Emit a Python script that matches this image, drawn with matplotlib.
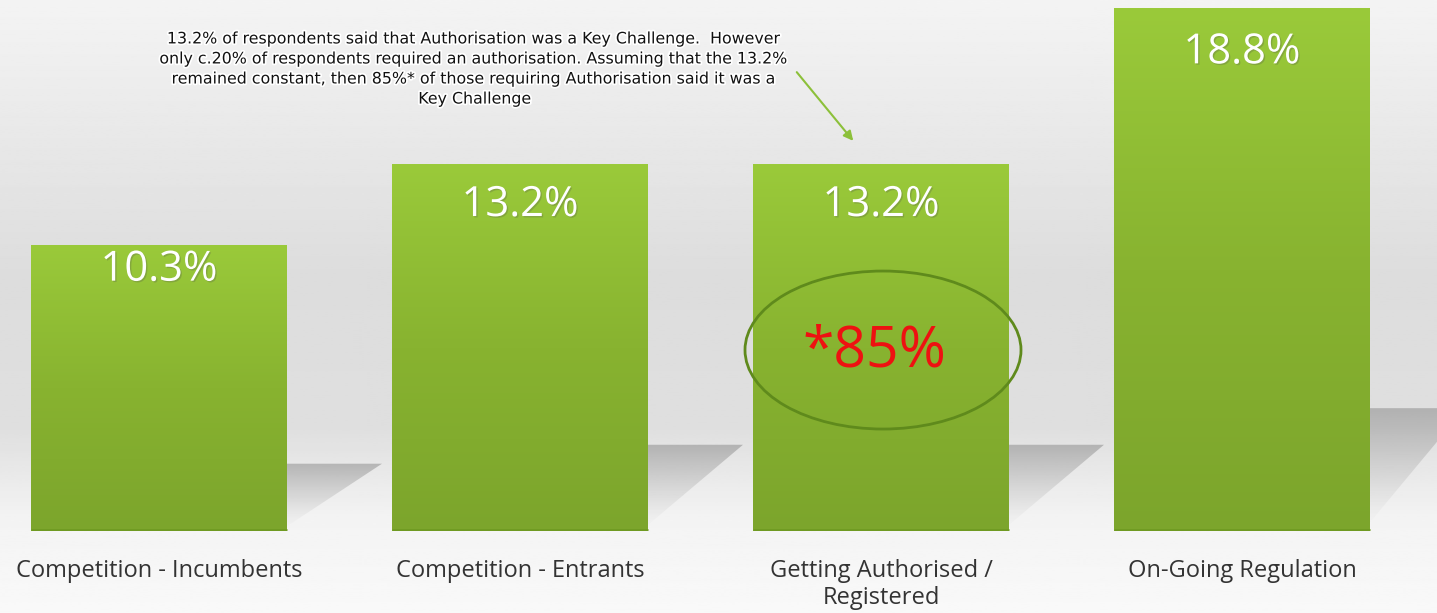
import numpy as np
import matplotlib
matplotlib.use("Agg")
import matplotlib.pyplot as plt
from matplotlib.patches import Ellipse, Polygon
from matplotlib.colors import LinearSegmentedColormap
import matplotlib.patheffects as pe

# ---- data ----
categories = ["Competition - Incumbents", "Competition - Entrants",
              "Getting Authorised /\nRegistered", "On-Going Regulation"]
values = [10.3, 13.2, 13.2, 18.8]
value_labels = ["10.3%", "13.2%", "13.2%", "18.8%"]
highlight_index = 2
highlight_label = "*85%"
note_text = ("13.2% of respondents said that Authorisation was a Key Challenge.  However\n"
             "only c.20% of respondents required an authorisation. Assuming that the 13.2%\n"
             "remained constant, then 85%* of those requiring Authorisation said it was a\n"
             "Key Challenge")

# label placement (pixels below bar top)
label_offsets_px = [25, 41, 41, 44]

W, H = 1437, 613
fig = plt.figure(figsize=(W / 100, H / 100), dpi=100)

# background gradient
bg = fig.add_axes([0, 0, 1, 1])
bg.set_axis_off()
ys = np.linspace(0, 1, 300)
stops_y = [0.0, 0.15, 0.45, 0.70, 0.85, 1.0]
stops_v = [0.955, 0.925, 0.865, 0.875, 0.955, 0.975]
grad = np.interp(ys, stops_y, stops_v)
bg.imshow(np.repeat(grad[:, None], 2, axis=1), cmap="gray", vmin=0, vmax=1,
          aspect="auto", extent=[0, 1, 0, 1], origin="upper")
bg.set_xlim(0, 1)
bg.set_ylim(0, 1)

ax = fig.add_axes([0, (H - 531) / H, 1, 531 / H])
ax.patch.set_alpha(0)

x = np.arange(len(values))
width = 0.709
scale = 27.8  # px per unit
ylim_top = 531 / scale
xlim = (-159 / 361, (W - 159) / 361)

# shadows
dx = 95 / 361
shadow_cmap = LinearSegmentedColormap.from_list(
    "sh", [(0.55, 0.55, 0.55, 0.0), (0.55, 0.55, 0.55, 0.55)])
for xi, v in zip(x, values):
    xr = xi + width / 2
    h = 0.235 * v
    poly = Polygon([(xr - 0.02, 0), (xr, h), (xr + dx, h)], closed=True,
                   facecolor="none", edgecolor="none")
    ax.add_patch(poly)
    g = np.linspace(0, 1, 100)[:, None] ** 1.3
    im = ax.imshow(np.repeat(g, 2, axis=1), cmap=shadow_cmap, vmin=0, vmax=1,
                   aspect="auto", extent=[xr - 0.02, xr + dx, 0, h],
                   origin="lower", zorder=1)
    im.set_clip_path(poly)

# bars
bar_cmap = LinearSegmentedColormap.from_list(
    "bar", ["#7ca52c", "#88b330", "#9aca3a"])
bars = ax.bar(x, values, width=width, color="#8ab631", edgecolor="none", zorder=2)
for b in bars:
    x0, y0 = b.get_x(), b.get_y()
    bw, bh = b.get_width(), b.get_height()
    g = np.linspace(0, 1, 200)[:, None]
    im = ax.imshow(np.repeat(g, 2, axis=1), cmap=bar_cmap, vmin=0, vmax=1,
                   aspect="auto", extent=[x0, x0 + bw, y0, y0 + bh],
                   origin="lower", zorder=3)
    im.set_clip_path(b)
    ax.plot([x0, x0 + bw], [0.04, 0.04], color="#6f9a22", lw=2,
            solid_capstyle="butt", zorder=4)

# value labels
for xi, v, lab, off in zip(x, values, value_labels, label_offsets_px):
    ax.text(xi, v - off / scale, lab, ha="center", va="center", color="white",
            fontsize=30, family=["Open Sans", "DejaVu Sans"], zorder=6,
            path_effects=[pe.withSimplePatchShadow(offset=(1, -1), alpha=0.25)])

# highlight ellipse & text
hv = values[highlight_index]
ell_cy = hv - (350 - 164) / scale
ax.add_patch(Ellipse((highlight_index + 2 / 361, ell_cy), 276 / 361, 158 / scale,
                     facecolor="none", edgecolor="#5f8a1c", lw=2, zorder=7))
ax.text(highlight_index - 7 / 361, ell_cy - 2 / scale, highlight_label, ha="center",
        va="center", color="#ee1111", fontsize=41,
        family=["Open Sans", "DejaVu Sans"], zorder=8)

# note text + arrow
ax.text((475 - 159) / 361, (531 - 69) / scale, note_text, ha="center", va="center",
        fontsize=11.4, linespacing=1.42, color="#111111",
        family=["Liberation Sans Narrow", "DejaVu Sans"], zorder=8,
        path_effects=[pe.withStroke(linewidth=2.5, foreground="white")])
ax.annotate("", xy=((855 - 159) / 361, (531 - 143) / scale),
            xytext=((795 - 159) / 361, (531 - 70) / scale),
            arrowprops=dict(arrowstyle="-|>", color="#8cc03a", lw=1.5,
                            mutation_scale=14), zorder=8)

# axes styling
ax.set_xticks(x)
ax.set_xticklabels(categories, fontsize=17, color="#333333",
                   family=["Open Sans", "DejaVu Sans"], linespacing=1.2)
ax.tick_params(axis="x", length=0, pad=20)
ax.set_yticks([])
for s in ax.spines.values():
    s.set_visible(False)
ax.set_xlim(*xlim)
ax.set_ylim(0, ylim_top)

fig.savefig("out.png", dpi=100)
